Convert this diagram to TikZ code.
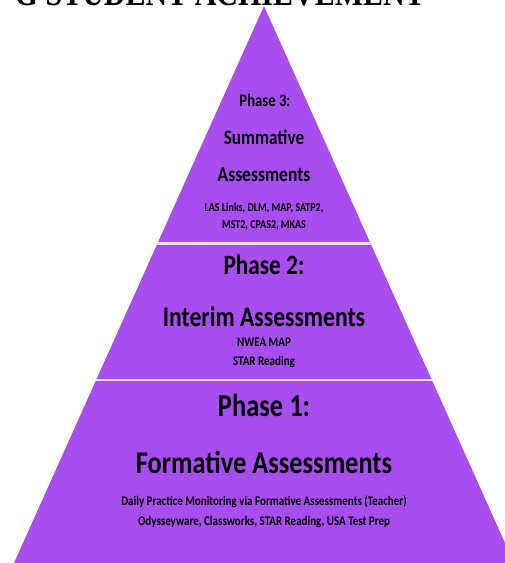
\documentclass[tikz,border=0pt]{standalone}
\usepackage{fontspec}
\setmainfont{Carlito}
\newfontfamily\titlefont{Liberation Serif}
\definecolor{pyr}{RGB}{168,78,240}
\definecolor{gapcol}{RGB}{236,222,252}
\newcommand{\tallt}[1]{\scalebox{1}[1.2]{#1}}
\begin{document}
\begin{tikzpicture}[x=1pt,y=-1pt,
  lbl/.style={font=\bfseries, text=black, inner sep=0pt, anchor=center},
  sep/.style={draw=gapcol, line width=2.6pt}]
\useasboundingbox (0,0) rectangle (505,563);
\clip (0,0) rectangle (505,563);
\coordinate (apex) at (264,6);
\coordinate (bl) at (14,563);
\coordinate (br) at (514,563);
\fill[pyr] (apex) -- (bl) -- (br) -- cycle;
\coordinate (d1l) at (157.4,243.5);
\coordinate (d1r) at (370.6,243.5);
\coordinate (d2l) at (96,380);
\coordinate (d2r) at (432,380);
\draw[sep] (d1l) -- (d1r);
\draw[sep] (d2l) -- (d2r);
% title
\node[anchor=base east, inner sep=0pt, font=\titlefont\bfseries\fontsize{30}{30}\selectfont] (title) at (425,5) {\tallt{G STUDENT ACHIEVEMENT}};
% Phase 3
\node[lbl, font=\bfseries\fontsize{14.7}{16}\selectfont] (p3) at (265,100) {\tallt{Phase 3:}};
\node[lbl, font=\bfseries\fontsize{17.2}{19}\selectfont] (p3a) at (264,137) {\tallt{Summative}};
\node[lbl, font=\bfseries\fontsize{17.5}{19}\selectfont] (p3b) at (264,175) {\tallt{Assessments}};
\node[lbl, font=\bfseries\fontsize{10}{11}\selectfont] (p3c) at (264,208) {\tallt{LAS Links, DLM, MAP, SATP2,}};
\node[lbl, font=\bfseries\fontsize{10}{11}\selectfont] (p3d) at (264,225) {\tallt{MST2, CPAS2, MKAS}};
% Phase 2
\node[lbl, font=\bfseries\fontsize{23.3}{25}\selectfont] (p2) at (264,265) {\tallt{Phase 2:}};
\node[lbl, font=\bfseries\fontsize{23.6}{25}\selectfont] (p2a) at (264,317) {\tallt{Interim Assessments}};
\node[lbl, font=\bfseries\fontsize{11}{12}\selectfont] (p2b) at (264,342) {\tallt{NWEA MAP}};
\node[lbl, font=\bfseries\fontsize{11}{12}\selectfont] (p2c) at (264,362) {\tallt{STAR Reading}};
% Phase 1
\node[lbl, font=\bfseries\fontsize{26.5}{28}\selectfont] (p1) at (264,405) {\tallt{Phase 1:}};
\node[lbl, font=\bfseries\fontsize{26.4}{28}\selectfont] (p1a) at (264,462) {\tallt{Formative Assessments}};
\node[lbl, font=\bfseries\fontsize{11}{12}\selectfont] (p1b) at (264,502) {\tallt{Daily Practice Monitoring via Formative Assessments (Teacher)}};
\node[lbl, font=\bfseries\fontsize{11}{12}\selectfont] (p1c) at (264,522) {\tallt{Odysseyware, Classworks, STAR Reading, USA Test Prep}};
\end{tikzpicture}
\end{document}
